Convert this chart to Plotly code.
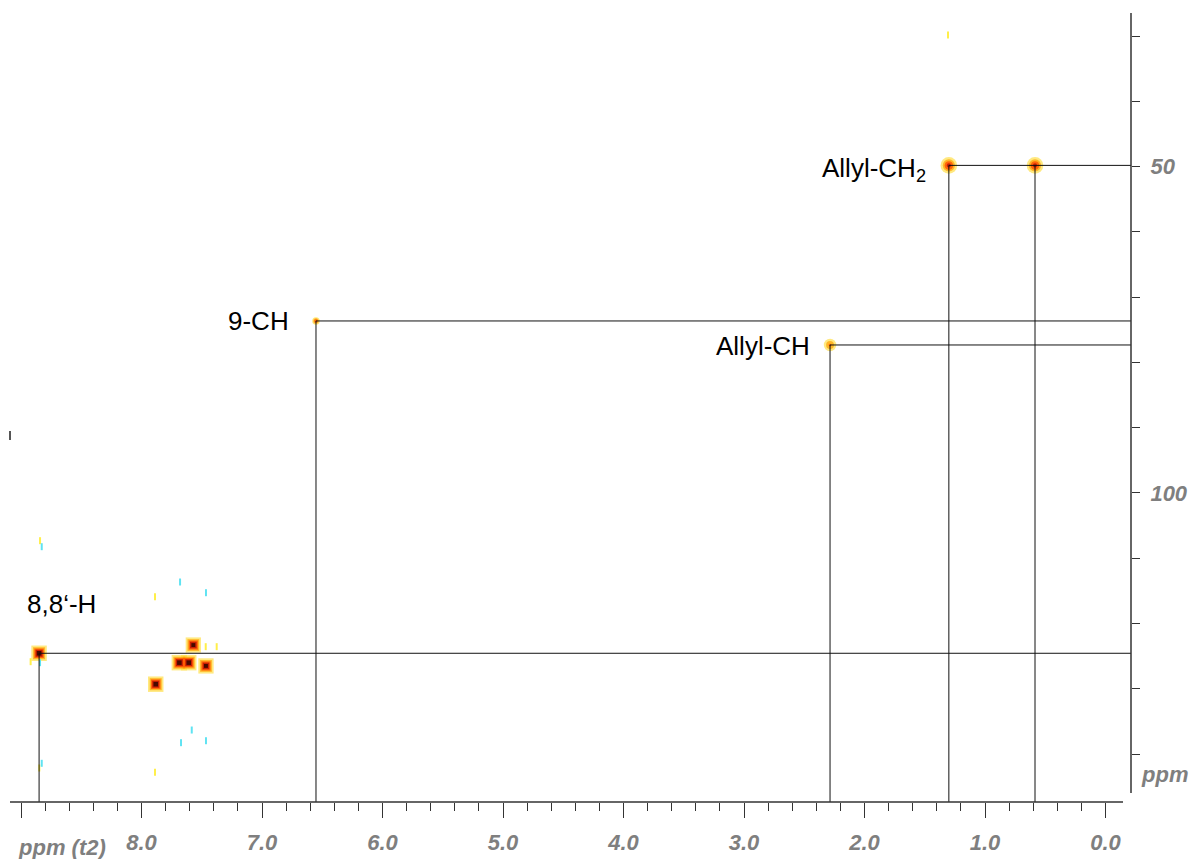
import numpy as np
import plotly.graph_objects as go

# ---- HSQC cross peaks: 1H shift (t2), 13C shift (t1), relative intensity ----
peak_h = [8.85, 7.570, 7.686, 7.608, 7.465, 7.882, 6.552, 2.286, 1.300, 0.585]
peak_c = [124.56, 123.30, 126.00, 126.00, 126.50, 129.30, 73.64, 77.32, 49.80, 49.80]
peak_amp = [1.00, 0.95, 1.00, 1.00, 0.95, 1.00, 0.60, 0.45, 0.70, 0.70]

# weak noise specks (positive = yellow, negative = cyan)
noise_pos_h = [8.842, 7.888, 8.920, 8.848, 7.888, 7.467, 7.376, 1.307]
noise_pos_c = [107.31, 115.89, 125.85, 142.14, 142.80, 123.55, 123.55, 29.82]
noise_neg_h = [8.828, 7.680, 7.465, 8.842, 7.583, 7.672, 7.465, 8.828]
noise_neg_c = [108.23, 113.64, 115.28, 126.00, 136.32, 138.26, 137.96, 141.42]

# ---- assignments: label, 1H shifts, 13C shift ----
assign_names = ["8,8\u2018-H", "9-CH", "Allyl-CH", "Allyl-CH<sub>2</sub>"]
assign_h = [[8.85], [6.552], [2.286], [1.300, 0.585]]
assign_c = [124.56, 73.64, 77.32, 49.80]

# ---- axis ticks ----
x_major = [0, 1, 2, 3, 4, 5, 6, 7, 8, 9]
x_major_text = ["0.0", "1.0", "2.0", "3.0", "4.0", "5.0", "6.0", "7.0", "8.0", ""]
y_ticks = [30, 40, 50, 60, 70, 80, 90, 100, 110, 120, 130, 140]
y_tick_text = ["", "", "50", "", "", "", "", "100", "", "", "", ""]

# ---- styling ----
X_RANGE = [9.0913, -0.2116]
Y_RANGE = [147.35, 26.45]
peak_sigma_px = [3.6, 3.6, 3.6, 3.6, 3.6, 3.6, 2.0, 3.6, 4.2, 4.2]
peak_symbol = ["square"] * 6 + ["circle"] * 4
levels = [0.10, 0.25, 0.42, 0.62, 0.82]
level_colors = ["#FFE04A", "#FFA000", "#FF4000", "#B00000", "#120000"]
AXIS_COLOR = "#333333"
LABEL_GREY = "#7F7F7F"
FONT = "Liberation Sans"

fig = go.Figure()

# contour-like layered blobs (outer level first)
for lev, col in zip(levels, level_colors):
    xs, ys, sizes, syms = [], [], [], []
    for h, c, a, s, sym in zip(peak_h, peak_c, peak_amp, peak_sigma_px, peak_symbol):
        if a > lev:
            d = 2 * s * np.sqrt(2 * np.log(a / lev))
            if d >= 1.5:
                xs.append(h)
                ys.append(c)
                sizes.append(d)
                syms.append(sym)
    fig.add_trace(go.Scatter(
        x=xs, y=ys, mode="markers",
        marker=dict(size=sizes, color=col, symbol=syms, line=dict(width=0)),
        hoverinfo="skip", showlegend=False))

# noise specks
fig.add_trace(go.Scatter(
    x=noise_pos_h, y=noise_pos_c, mode="markers",
    marker=dict(symbol="line-ns", size=5, line=dict(color="#FFEF4A", width=2)),
    hoverinfo="skip", showlegend=False))
fig.add_trace(go.Scatter(
    x=noise_neg_h, y=noise_neg_c, mode="markers",
    marker=dict(symbol="line-ns", size=5, line=dict(color="#5FE3F2", width=2)),
    hoverinfo="skip", showlegend=False))

# assignment cross lines: horizontal to the 13C axis, vertical to the 1H axis
lx, ly = [], []
for hs, c in zip(assign_h, assign_c):
    lx += [max(hs), X_RANGE[1], None]
    ly += [c, c, None]
    for h in hs:
        lx += [h, h, None]
        ly += [c, Y_RANGE[0], None]
fig.add_trace(go.Scatter(
    x=lx, y=ly, mode="lines", line=dict(color="#111111", width=1),
    hoverinfo="skip", showlegend=False))

# labels
label_style = [
    dict(xanchor="left", xshift=-14, yshift=49),
    dict(xanchor="right", xshift=-25, yshift=0),
    dict(xanchor="right", xshift=-18, yshift=-1),
    dict(xanchor="right", xshift=-21, yshift=-4),
]
for name, hs, c, st in zip(assign_names, assign_h, assign_c, label_style):
    fig.add_annotation(
        x=max(hs), y=c, xref="x", yref="y", text=name, showarrow=False,
        yanchor="middle", font=dict(family=FONT, size=26, color="black"), **st)

axis_font = dict(family=FONT, size=22, color=LABEL_GREY, weight="bold", style="italic")

fig.add_annotation(x=0.0055, y=-0.058, xref="paper", yref="paper", text="ppm (t2)",
                   showarrow=False, xanchor="left", yanchor="middle", font=axis_font)
fig.add_annotation(x=1.007, y=(802 - 774) / 789, xref="paper", yref="paper", text="ppm",
                   showarrow=False, xanchor="left", yanchor="middle", font=axis_font)

# axis lines
fig.add_shape(type="line", xref="paper", yref="paper", x0=0, x1=(1123 - 10) / 1121,
              y0=0, y1=0, line=dict(color=AXIS_COLOR, width=1.5))
fig.add_shape(type="line", xref="paper", yref="paper", x0=1, x1=1,
              y0=(802 - 793) / 789, y1=1, line=dict(color=AXIS_COLOR, width=1.5))
fig.add_shape(type="line", xref="paper", yref="paper", x0=0, x1=0,
              y0=(802 - 440) / 789, y1=(802 - 431) / 789, line=dict(color="#555555", width=2))

minor_vals = [round(0.2 * k, 1) for k in range(1, 45) if k % 5 != 0]

fig.update_layout(
    width=1189, height=859, autosize=False,
    margin=dict(l=10, r=58, t=13, b=57, pad=0, autoexpand=False),
    paper_bgcolor="white", plot_bgcolor="white",
    xaxis=dict(
        range=X_RANGE, showgrid=False, zeroline=False, showline=False, automargin=False,
        tickmode="array", tickvals=x_major, ticktext=x_major_text,
        ticks="outside", ticklen=15, tickwidth=1, tickcolor=AXIS_COLOR,
        tickfont=axis_font, ticklabelstandoff=6,
        minor=dict(tickmode="array", tickvals=minor_vals, ticks="outside",
                   ticklen=8, tickwidth=1, tickcolor=AXIS_COLOR, showgrid=False),
    ),
    yaxis=dict(
        range=Y_RANGE, side="right", showgrid=False, zeroline=False, showline=False,
        automargin=False,
        tickmode="array", tickvals=y_ticks, ticktext=y_tick_text,
        ticks="outside", ticklen=8, tickwidth=1, tickcolor=AXIS_COLOR,
        tickfont=axis_font, ticklabelstandoff=6,
    ),
)

fig.write_html("out.html")
